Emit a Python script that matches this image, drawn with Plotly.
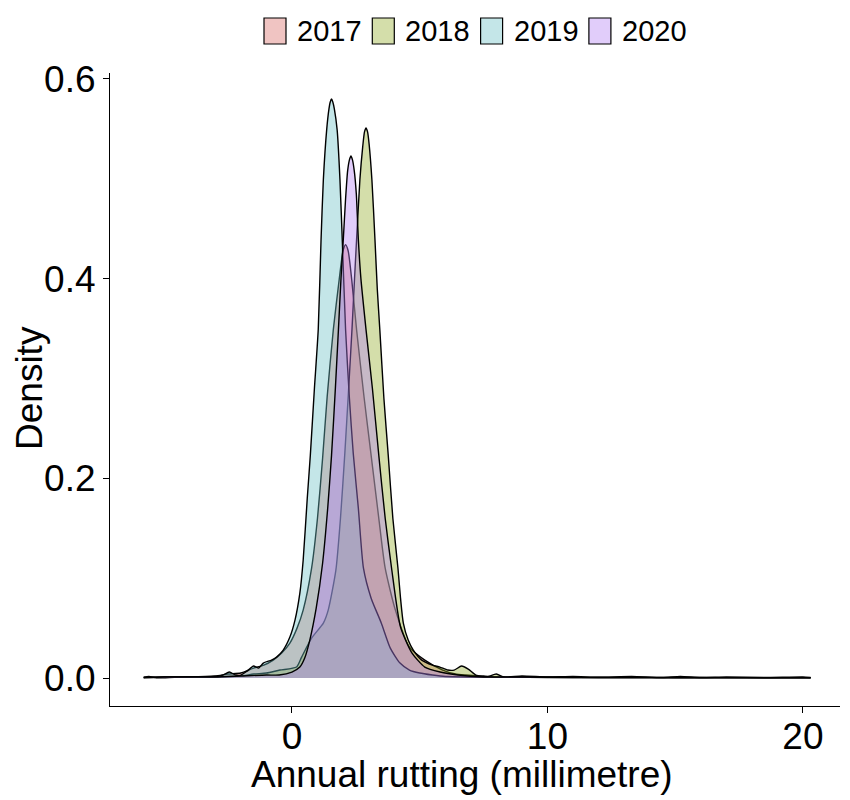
import plotly.graph_objects as go

years = ["2017", "2018", "2019", "2020"]
colors = ["#D96B66", "#94AC2A", "#6BC0C5", "#B482F2"]

x_2017 = [-5.8, -5.0, -4.0, -3.0, -2.5, -2.0, -1.5, -1.1, -0.73, -0.4, -0.08, 0.2, 0.44, 0.77, 1.0, 1.2, 1.38, 1.62, 1.85, 2.0, 2.10, 2.2,
          2.34, 2.53, 2.82, 3.1, 3.4, 3.65, 4.05, 4.6, 5.2, 5.9, 6.4, 6.8, 7.5, 8.0, 9.0, 10.5, 12.0, 14.0, 16.0, 18.0, 20.3]
y_2017 = [0.0005, 0.001, 0.001, 0.002, 0.004, 0.005, 0.010, 0.013, 0.018, 0.025, 0.035, 0.05, 0.068, 0.11, 0.16, 0.22, 0.282, 0.349, 0.399, 0.428, 0.434, 0.428,
          0.399, 0.349, 0.282, 0.223, 0.16, 0.11, 0.068, 0.031, 0.018, 0.008, 0.004, 0.003, 0.002, 0.001, 0.001, 0.0008, 0.0005, 0.0005, 0.0005, 0.0004, 0.0004]

x_2018 = [-5.8, -5.0, -4.0, -3.0, -2.0, -1.5, -1.0, -0.47, 0.18, 0.38, 0.77, 1.23, 1.42, 1.72, 1.9, 2.07, 2.22, 2.35, 2.45, 2.53, 2.66, 2.77, 2.84, 2.90, 2.96,
          3.02, 3.13, 3.25, 3.34, 3.44, 3.6, 3.77, 3.95, 4.15, 4.25, 4.36, 4.55, 4.75, 5.08, 5.5, 5.79, 6.1, 6.35, 6.64, 6.9, 7.2, 7.6, 8.0, 8.3,
          9.0, 10.0, 11.0, 12.0, 13.3, 14.5, 15.2, 16.0, 17.0, 18.5, 20.0, 20.3]
y_2018 = [0.0005, 0.0008, 0.001, 0.001, 0.002, 0.004, 0.005, 0.008, 0.011, 0.021, 0.040, 0.055, 0.068, 0.108, 0.16, 0.225, 0.29, 0.349, 0.40, 0.439, 0.499, 0.532, 0.547, 0.551, 0.547,
          0.535, 0.499, 0.439, 0.39, 0.349, 0.28, 0.223, 0.16, 0.11, 0.08, 0.055, 0.038, 0.028, 0.018, 0.013, 0.011, 0.008, 0.008, 0.012, 0.009, 0.003, 0.001, 0.004, 0.001,
          0.002, 0.001, 0.0015, 0.0008, 0.0015, 0.0005, 0.0015, 0.0005, 0.001, 0.0005, 0.001, 0.0005]

x_2019 = [-5.8, -5.6, -5.3, -4.6, -3.8, -3.0, -2.7, -2.45, -2.2, -2.0, -1.75, -1.5, -1.3, -1.12, -0.8, -0.6, -0.34, -0.08, 0.12, 0.31, 0.44,
          0.6, 0.72, 0.88, 1.03, 1.14, 1.23, 1.36, 1.45, 1.50, 1.55, 1.60, 1.66, 1.77, 1.88, 1.97, 2.1, 2.25, 2.4, 2.6, 2.8, 3.1, 3.5, 3.85, 4.23, 4.6,
          5.0, 5.5, 6.0, 7.0, 8.5, 10.0, 12.0, 14.0, 16.0, 18.0, 20.3]
y_2019 = [0.0005, 0.0015, 0.0003, 0.0008, 0.0012, 0.0015, 0.003, 0.006, 0.003, 0.003, 0.007, 0.012, 0.010, 0.015, 0.018, 0.021, 0.028, 0.041, 0.058, 0.085, 0.118,
          0.18, 0.223, 0.29, 0.349, 0.439, 0.499, 0.549, 0.570, 0.577, 0.580, 0.577, 0.570, 0.549, 0.499, 0.439, 0.349, 0.28, 0.225, 0.17, 0.11, 0.08, 0.055, 0.03, 0.015, 0.008,
          0.005, 0.003, 0.0015, 0.001, 0.0008, 0.0005, 0.0004, 0.0004, 0.0003, 0.0003, 0.0003]

x_2020 = [-5.8, -5.0, -4.0, -3.0, -2.0, -1.0, -0.5, 0.0, 0.31, 0.5, 0.7, 0.95, 1.2, 1.4, 1.55, 1.7, 1.82, 1.92, 2.01, 2.1, 2.18, 2.25, 2.31,
          2.37, 2.44, 2.52, 2.60, 2.7, 2.9, 3.15, 3.4, 3.65, 3.9, 4.25, 4.7, 5.2, 5.8, 6.5, 7.5, 9.0, 11.0, 13.0, 15.0, 17.0, 20.3]
y_2020 = [0.0005, 0.001, 0.001, 0.001, 0.002, 0.003, 0.003, 0.006, 0.011, 0.02, 0.038, 0.07, 0.115, 0.17, 0.223, 0.29, 0.349, 0.40, 0.439, 0.48, 0.508, 0.519, 0.523,
          0.519, 0.508, 0.485, 0.439, 0.40, 0.349, 0.29, 0.223, 0.16, 0.11, 0.051, 0.025, 0.011, 0.006, 0.003, 0.001, 0.001, 0.0005, 0.0005, 0.0004, 0.0004, 0.0003]

x_ticks = [0, 10, 20]
y_ticks = [0.0, 0.2, 0.4, 0.6]

series_x = [x_2017, x_2018, x_2019, x_2020]
series_y = [y_2017, y_2018, y_2019, y_2020]


def rgba(hex_color, a):
    h = hex_color.lstrip("#")
    r, g, b = int(h[0:2], 16), int(h[2:4], 16), int(h[4:6], 16)
    return f"rgba({r},{g},{b},{a})"


ALPHA = 0.4
FONT = "Liberation Sans, Arial, Helvetica, sans-serif"
OFF = 8  # page body margin offset

fig = go.Figure()
for name, col, xs, ys in zip(years, colors, series_x, series_y):
    fig.add_trace(go.Scatter(
        x=xs, y=ys, name=name, mode="lines", fill="tozeroy",
        fillcolor=rgba(col, ALPHA),
        line=dict(color="black", width=1.4, shape="spline", smoothing=0.6),
        showlegend=False,
    ))

# plot area in screen pixels, converted to figure pixels
L, R, T, B = 110 - OFF, 840 - OFF, 73 - OFF, 706 - OFF
W, H = R - L, B - T


def px(xs):
    return (xs - OFF - L) / W


def py(ys):
    return (B - (ys - OFF)) / H


shapes = []
annotations = []
for i, (name, col) in enumerate(zip(years, colors)):
    bx0 = 264 + 108.3 * i
    bx1 = bx0 + 22
    shapes.append(dict(type="rect", xref="paper", yref="paper",
                       x0=px(bx0), x1=px(bx1), y0=py(44), y1=py(18),
                       fillcolor=rgba(col, ALPHA), line=dict(color="black", width=1.2)))
    annotations.append(dict(text=name, xref="paper", yref="paper",
                            x=px(bx1 + 9), y=py(31),
                            xanchor="left", yanchor="middle", showarrow=False,
                            font=dict(size=29, color="black", family=FONT)))

# axis titles
annotations.append(dict(text="Annual rutting (millimetre)", xref="paper", yref="paper",
                        x=px(462), y=py(774), xanchor="center", yanchor="middle",
                        showarrow=False, font=dict(size=37, color="black", family=FONT)))
annotations.append(dict(text="Density", xref="paper", yref="paper",
                        x=px(29), y=py(388), xanchor="center", yanchor="middle",
                        textangle=-90, showarrow=False, font=dict(size=37, color="black", family=FONT)))

fig.update_layout(
    width=850, height=800,
    margin=dict(l=L, r=850 - R, t=T, b=800 - B, autoexpand=False),
    paper_bgcolor="white", plot_bgcolor="white",
    font=dict(family=FONT, color="black"),
    showlegend=False,
    shapes=shapes,
    annotations=annotations,
    xaxis=dict(
        range=[-7.12, 21.45], tickvals=x_ticks, ticktext=[str(v) for v in x_ticks],
        showline=True, linecolor="black", linewidth=1.2, mirror=False,
        ticks="outside", ticklen=6, tickwidth=1.1, tickcolor="black",
        showgrid=False, zeroline=False, automargin=False,
        ticklabelstandoff=-9,
        tickfont=dict(size=37, color="black", family=FONT),
    ),
    yaxis=dict(
        range=[-0.028, 0.606], tickvals=y_ticks, ticktext=[f"{v:.1f}" for v in y_ticks],
        showline=True, linecolor="black", linewidth=1.2, mirror=False,
        ticks="outside", ticklen=6, tickwidth=1.1, tickcolor="black",
        showgrid=False, zeroline=False, automargin=False,
        tickfont=dict(size=37, color="black", family=FONT),
    ),
)

fig.write_html("out.html")
